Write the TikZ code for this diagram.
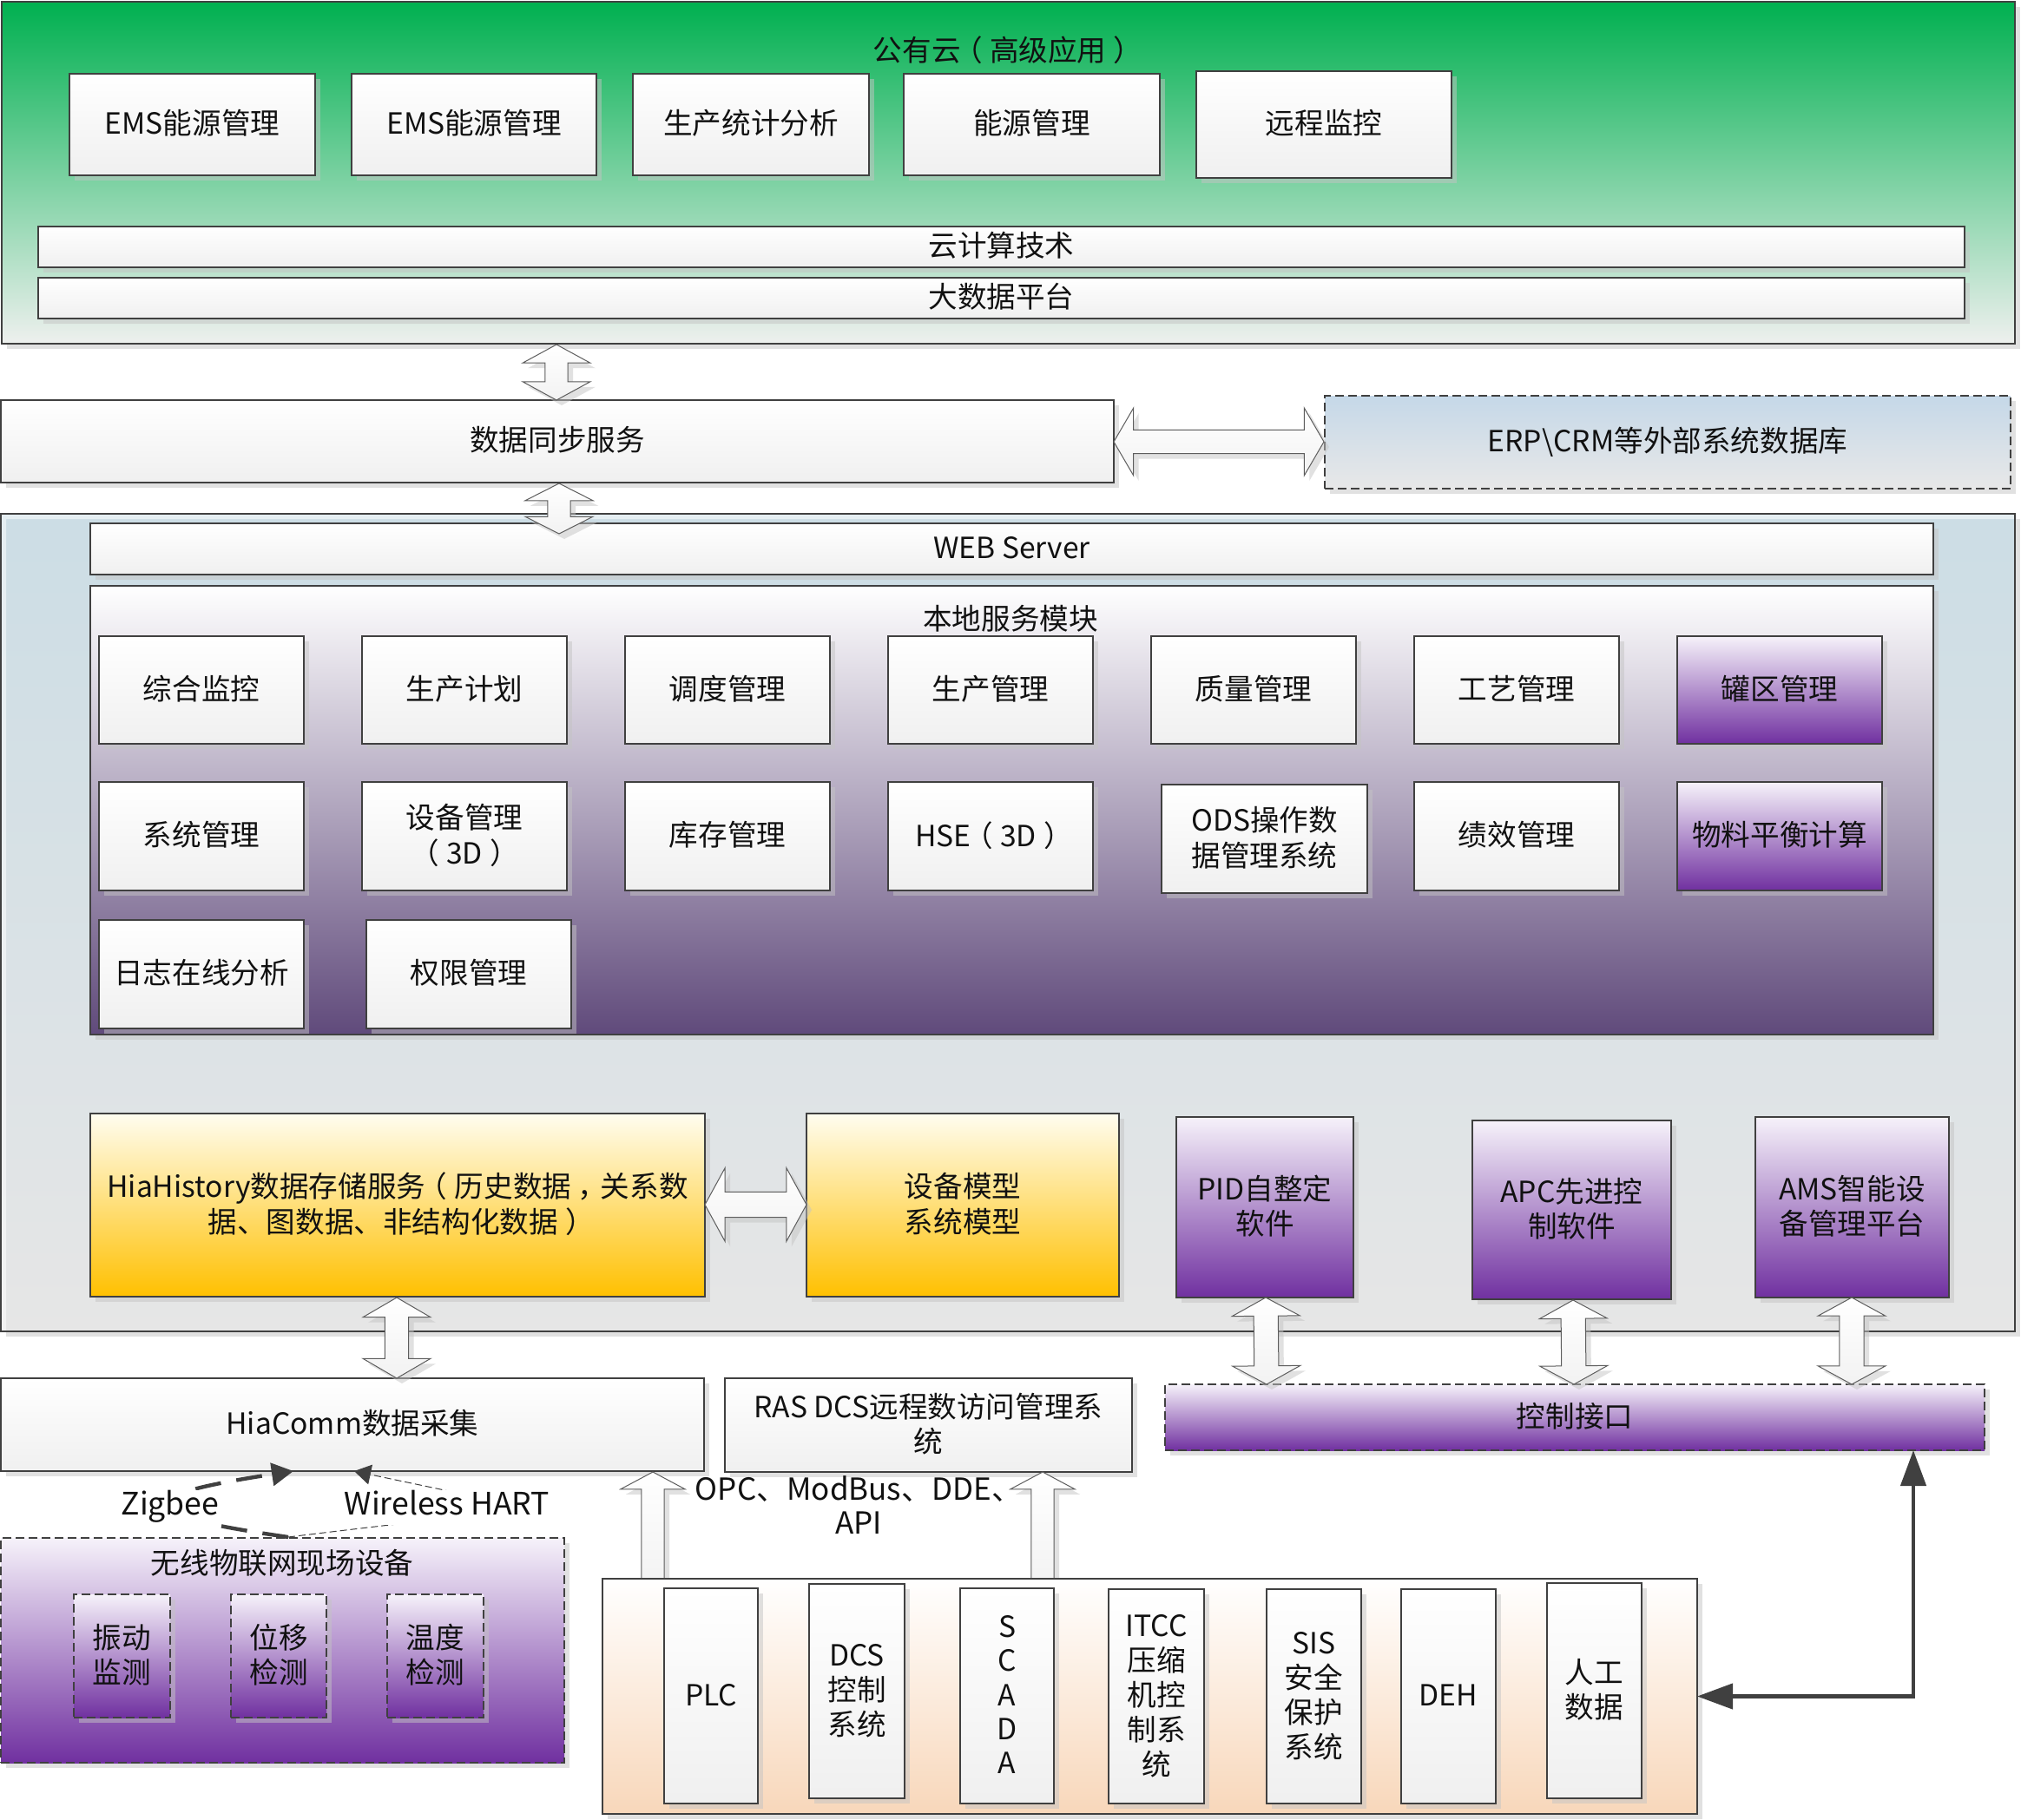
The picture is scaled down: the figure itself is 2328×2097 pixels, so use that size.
\documentclass[tikz,border=0pt]{standalone}
\usepackage{fontspec}
\setmainfont{Noto Sans CJK SC}
\usetikzlibrary{shapes.arrows,shadows,arrows.meta}
\definecolor{ink}{HTML}{111111}
\definecolor{edge}{HTML}{404040}
\definecolor{shadowgrey}{HTML}{C4C4C4}
\tikzset{
  base/.style={draw=edge,line width=0.6pt,inner sep=0pt,outer sep=0pt,text=ink,
    font=\fontsize{16.8}{19.7}\selectfont,
    drop shadow={shadow xshift=3pt,shadow yshift=-3pt,opacity=.5,fill=shadowgrey}},
  whitebox/.style={base,top color=white,bottom color=black!6},
  cloudbg/.style={base,top color={rgb,255:red,0;green,176;blue,80},bottom color={rgb,255:red,238;green,240;blue,238}},
  panelbg/.style={base,top color={rgb,255:red,204;green,221;blue,229},bottom color={rgb,255:red,230;green,230;blue,230}},
  localbg/.style={base,top color=white,bottom color={rgb,255:red,96;green,74;blue,123}},
  purplebox/.style={base,top color={rgb,255:red,246;green,242;blue,250},bottom color={rgb,255:red,112;green,48;blue,160}},
  yellowbox/.style={base,top color={rgb,255:red,255;green,253;blue,240},bottom color={rgb,255:red,255;green,192;blue,0}},
  fieldbg/.style={base,top color=white,bottom color={rgb,255:red,248;green,215;blue,186}},
  bluedash/.style={base,dash pattern=on 5pt off 2.5pt,top color={rgb,255:red,197;green,216;blue,232},bottom color={rgb,255:red,232;green,232;blue,232}},
  purpledash/.style={purplebox,dash pattern=on 5pt off 2.5pt},
  lbl/.style={inner sep=0pt,outer sep=0pt,align=center,text=ink,font=\fontsize{16.8}{19.7}\selectfont},
  blockarrow/.style={draw=edge!85,line width=0.5pt,inner xsep=0pt,outer sep=0pt,top color=white,bottom color=black!5,
    drop shadow={shadow xshift=3pt,shadow yshift=-3pt,opacity=.5,fill=shadowgrey}},
  thickline/.style={draw=edge,line width=2.2pt,{Triangle[length=20.5pt,width=14.5pt]}-{Triangle[length=20.5pt,width=14.5pt]}},
}
\newcommand\lp{\kern-.25em（\kern.25em}
\newcommand\rp{\kern.25em）\kern-.25em}
\newcommand\cm{\kern.22em，\kern-.22em}
\newcommand\bx[7]{%
  \pgfmathsetmacro\bw{(#5-#3)*0.5}\pgfmathsetmacro\bh{(#6-#4)*0.5}%
  \node[#1,minimum width=\bw pt,minimum height=\bh pt] (#2) at ({(#3+#5)/2},{(#4+#6)/2})
    {\vbox{\kern3.2pt\hbox{\begin{tabular}{@{}c@{}}#7\end{tabular}}}};}
% block arrow: name,x1,y1,x2,y2,shaft half,head half,head length
\newcommand\dblarrow[8]{%
  \pgfmathsetmacro\alen{veclen(#4-#2,#5-#3)*0.5}%
  \pgfmathsetmacro\aang{atan2(-(#5-#3),#4-#2)}%
  \pgfmathsetmacro\ash{(#6-0.4)*0.5}\pgfmathsetmacro\aext{(#7-#6-0.6)*0.5}%
  \pgfmathsetmacro\atip{2*atan(#7/#8)}%
  \node[blockarrow,double arrow,double arrow head indent=0pt,rotate=\aang,minimum height=\alen pt,
    inner ysep=\ash pt,double arrow head extend=\aext pt,double arrow tip angle=\atip]
    (#1) at ({(#2+#4)/2},{(#3+#5)/2}) {};}
\newcommand\sglarrow[8]{%
  \pgfmathsetmacro\alen{veclen(#4-#2,#5-#3)*0.5}%
  \pgfmathsetmacro\aang{atan2(-(#5-#3),#4-#2)}%
  \pgfmathsetmacro\ash{(#6-0.4)*0.5}\pgfmathsetmacro\aext{(#7-#6-0.6)*0.5}%
  \pgfmathsetmacro\atip{2*atan(#7/#8)}%
  \node[blockarrow,single arrow,single arrow head indent=0pt,rotate=\aang,minimum height=\alen pt,
    inner ysep=\ash pt,single arrow head extend=\aext pt,single arrow tip angle=\atip,anchor=tail]
    (#1) at (#2,#3) {};}
\begin{document}
\begin{tikzpicture}[x=0.5pt,y=-0.5pt]
\useasboundingbox (0,0) rectangle (2328,2097);
\fill[white] (0,0) rectangle (2328,2097);
% cloud
\bx{cloudbg}{cloud}{2}{2}{2321}{396}{}
\node[lbl] (cloudtitle) at (1157,58) {公有云\lp 高级应用\rp};
\bx{whitebox}{ems1}{80}{85}{363}{202}{EMS能源管理}
\bx{whitebox}{ems2}{405}{85}{687}{202}{EMS能源管理}
\bx{whitebox}{stat}{729}{85}{1001}{202}{生产统计分析}
\bx{whitebox}{energy}{1041}{85}{1336}{202}{能源管理}
\bx{whitebox}{remote}{1378}{82}{1672}{205}{远程监控}
\bx{whitebox}{cloudcalc}{44}{261}{2263}{308}{云计算技术}
\bx{whitebox}{bigdata}{44}{320}{2263}{367}{大数据平台}
% sync row
\bx{whitebox}{sync}{1}{461}{1283}{556}{数据同步服务}
\bx{bluedash}{erp}{1526}{456}{2316}{563}{ERP\textbackslash CRM等外部系统数据库}
\dblarrow{a1}{641}{397}{641}{461}{13}{39.5}{21.5}
\dblarrow{a3}{1283}{509}{1525}{509}{13.5}{39.5}{23}
% main panel
\bx{panelbg}{panel}{1}{592}{2321}{1534}{}
\fill[white,opacity=.5] (panel.north west) -- (panel.north east) -- ++(0,6) -- (7,598) -- (7,1534) -- (panel.south west) -- cycle;
\draw[edge,line width=0.6pt] (panel.north west) rectangle (panel.south east);
\bx{whitebox}{web}{104}{603}{2227}{662}{WEB Server}
\dblarrow{a2}{644}{557}{644}{615}{13}{39.5}{20}
\bx{localbg}{local}{104}{675}{2227}{1192}{}
\node[lbl] (localtitle) at (1164,713) {本地服务模块};
\bx{whitebox}{m11}{114}{733}{350}{857}{综合监控}
\bx{whitebox}{m12}{417}{733}{653}{857}{生产计划}
\bx{whitebox}{m13}{720}{733}{956}{857}{调度管理}
\bx{whitebox}{m14}{1023}{733}{1259}{857}{生产管理}
\bx{whitebox}{m15}{1326}{733}{1562}{857}{质量管理}
\bx{whitebox}{m16}{1629}{733}{1865}{857}{工艺管理}
\bx{purplebox}{m17}{1932}{733}{2168}{857}{罐区管理}
\bx{whitebox}{m21}{114}{901}{350}{1026}{系统管理}
\bx{whitebox}{m22}{417}{901}{653}{1026}{设备管理\\\lp 3D\rp}
\bx{whitebox}{m23}{720}{901}{956}{1026}{库存管理}
\bx{whitebox}{m24}{1023}{901}{1259}{1026}{HSE\lp 3D\rp}
\bx{whitebox}{m25}{1338}{904}{1575}{1029}{ODS操作数\\据管理系统}
\bx{whitebox}{m26}{1629}{901}{1865}{1026}{绩效管理}
\bx{purplebox}{m27}{1932}{901}{2168}{1026}{物料平衡计算}
\bx{whitebox}{m31}{114}{1060}{350}{1185}{日志在线分析}
\bx{whitebox}{m32}{422}{1060}{658}{1185}{权限管理}
\bx{yellowbox}{hist}{104}{1283}{812}{1494}{HiaHistory数据存储服务\lp 历史数据\cm 关系数\\据、图数据、非结构化数据\rp}
\bx{yellowbox}{model}{929}{1283}{1289}{1494}{设备模型\\系统模型}
\dblarrow{a4}{812}{1388}{929}{1388}{14.5}{43}{23.5}
\bx{purplebox}{pid}{1355}{1287}{1559}{1495}{PID自整定\\软件}
\bx{purplebox}{apc}{1696}{1291}{1925}{1497}{APC先进控\\制软件}
\bx{purplebox}{ams}{2022}{1287}{2245}{1495}{AMS智能设\\备管理平台}
% lower row
\bx{whitebox}{comm}{1}{1588}{811}{1695}{HiaComm数据采集}
\bx{whitebox}{ras}{835}{1588}{1304}{1696}{RAS DCS远程数访问管理系\\统}
\bx{purpledash}{ctrl}{1342}{1595}{2286}{1671}{控制接口}
\dblarrow{a5}{457}{1495}{457}{1588}{13.5}{39.5}{23}
\dblarrow{a6}{1458}{1495}{1459}{1595}{14}{39.5}{21.5}
\dblarrow{a7}{1812}{1498}{1813}{1595}{14}{39.5}{21.5}
\dblarrow{a8}{2133}{1495}{2133}{1595}{14}{39.5}{21.5}
% field arrows then panels
\sglarrow{u1}{752}{1830}{752}{1696}{13}{37.5}{20}
\sglarrow{u2}{1201}{1830}{1201}{1696}{13}{37.5}{20}
\bx{fieldbg}{field}{694}{1819}{1955}{2090}{}
\bx{whitebox}{plc}{765}{1830}{873}{2078}{PLC}
\bx{whitebox}{dcs}{932}{1825}{1042}{2072}{DCS\\控制\\系统}
\bx{whitebox}{scada}{1106}{1830}{1214}{2078}{S\\C\\A\\D\\A}
\bx{whitebox}{itcc}{1277}{1831}{1387}{2078}{ITCC\\压缩\\机控\\制系\\统}
\bx{whitebox}{sis}{1459}{1831}{1568}{2078}{SIS\\安全\\保护\\系统}
\bx{whitebox}{deh}{1614}{1831}{1723}{2078}{DEH}
\bx{whitebox}{manual}{1782}{1824}{1891}{2072}{人工\\数据}
\node[lbl,font=\fontsize{17.5}{19.7}\selectfont] (opc) at (989,1734) {OPC、ModBus、DDE、\\API};
% wireless
\bx{purpledash}{wireless}{1}{1772}{650}{2031}{}
\node[lbl] (wirelesstitle) at (325,1801) {无线物联网现场设备};
\bx{purpledash}{s1}{85}{1837}{196}{1979}{振动\\监测}
\bx{purpledash}{s2}{266}{1837}{376}{1979}{位移\\检测}
\bx{purpledash}{s3}{446}{1837}{557}{1979}{温度\\检测}
% connectors
\coordinate (wtop) at (332,1771);
\coordinate (zighead) at (338,1695);
\coordinate (harthead) at (408,1695);
\draw[edge,line width=2.2pt,dash pattern=on 15pt off 9pt,-{Triangle[length=12.5pt,width=13pt]}] (wtop) .. controls (150,1745) and (140,1725) .. (zighead);
\draw[edge,line width=0.5pt,dash pattern=on 4pt off 2pt,-{Triangle[length=9.5pt,width=11.5pt]}] (wtop) .. controls (632,1734) and (638,1744) .. (harthead);
\node[lbl,fill=white,font=\fontsize{17.8}{20}\selectfont,text height=14pt,text depth=6pt] (zigbee) at (196,1737) {Zigbee};
\node[lbl,fill=white,font=\fontsize{17.8}{20}\selectfont,text height=14pt,text depth=6pt] (hart) at (515,1737) {Wireless HART};
\coordinate (corner) at (2204,1955);
\draw[thickline] (ctrl.south -| corner) |- (field.east);
\end{tikzpicture}
\end{document}
